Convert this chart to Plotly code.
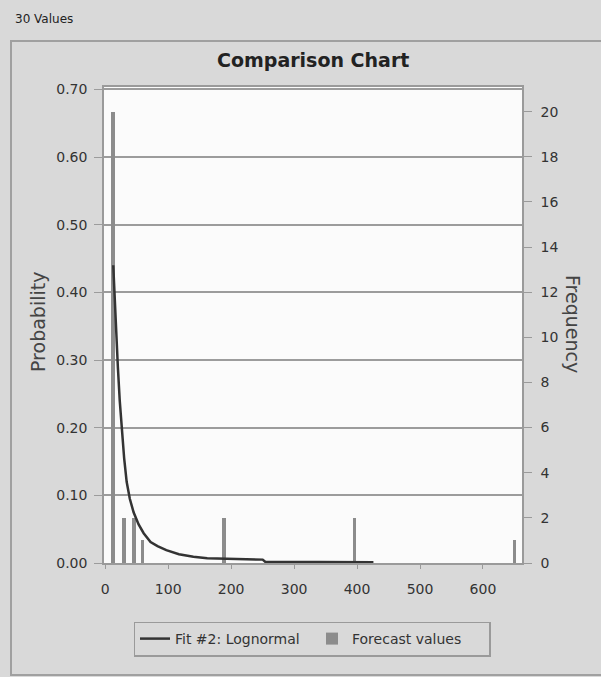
import plotly.graph_objects as go

# ---- data ----
bin_x = [12.7, 30, 46, 59, 188, 396, 650]          # forecast value positions
freq = [20, 2, 2, 1, 2, 2, 1]                       # frequency (30 values)

curve_x = [12.7, 14, 16, 18, 20, 23, 26, 30, 34, 39, 45, 53, 61, 72, 83, 97,
           117, 140, 162, 200, 250, 254, 300, 350, 400, 426]
curve_p = [0.44, 0.41, 0.36, 0.32, 0.29, 0.24, 0.20, 0.155, 0.12, 0.095, 0.075,
           0.057, 0.044, 0.031, 0.025, 0.019, 0.013, 0.0093, 0.007, 0.006,
           0.005, 0.0018, 0.0015, 0.0013, 0.0012, 0.001]

x_ticks = [0, 100, 200, 300, 400, 500, 600]

W, H = 601, 677
FONT = "DejaVu Sans"
GRID = "#9c9c9c"
LINE = "#9a9a9a"
TXT = "#333333"


def px(x):
    return x / W


def py(y):
    return 1 - y / H


fig = go.Figure()
fig.add_trace(go.Bar(
    x=bin_x, y=freq, width=6, yaxis="y",
    marker=dict(color="#8c8c8c", line=dict(width=0)),
    name="Forecast values", legendrank=2,
))
fig.add_trace(go.Scatter(
    x=curve_x, y=curve_p, mode="lines", yaxis="y2",
    line=dict(color="#333333", width=2.5),
    name="Fit #2: Lognormal", legendrank=1,
))

tickfont = dict(family=FONT, size=14, color=TXT)

fig.update_layout(
    width=W, height=H,
    margin=dict(l=0, r=0, t=0, b=0, autoexpand=False),
    paper_bgcolor="#d9d9d9",
    plot_bgcolor="#fbfbfb",
    showlegend=True,
    bargap=0,
    xaxis=dict(
        domain=[px(104), px(522)], range=[-2, 662],
        tickvals=x_ticks, ticks="outside", ticklen=4, tickcolor=LINE,
        showline=True, mirror=True, linecolor=LINE, linewidth=1.5,
        showgrid=False, zeroline=False, tickfont=tickfont,
        ticklabelstandoff=8,
    ),
    yaxis=dict(
        domain=[py(563), py(87)], side="right", range=[0, 21.09],
        dtick=2, ticks="outside", ticklen=8, tickcolor=LINE,
        showline=True, linecolor=LINE, linewidth=1.5,
        showgrid=False, zeroline=False, tickfont=tickfont,
        ticklabelstandoff=6,
    ),
    yaxis2=dict(
        overlaying="y", side="left", range=[0, 0.7035],
        dtick=0.1, tickformat=".2f", ticks="outside", ticklen=8,
        tickcolor=GRID, showline=True, linecolor=LINE, linewidth=1.5,
        showgrid=True, gridcolor=GRID, gridwidth=2, zeroline=False,
        tickfont=tickfont, ticklabelstandoff=4,
    ),
    legend=dict(
        orientation="h", x=px(312), xanchor="center",
        y=py(639), yanchor="middle",
        bgcolor="#d9d9d9", bordercolor=LINE, borderwidth=1.5,
        font=dict(family=FONT, size=14, color=TXT),
        entrywidth=132, entrywidthmode="pixels", itemwidth=30,
    ),
    shapes=[
        dict(type="rect", xref="paper", yref="paper",
             x0=px(11), x1=1.05, y0=py(675), y1=py(41),
             line=dict(color="#a0a0a0", width=2), layer="below"),
    ],
    annotations=[
        dict(text="30 Values", x=px(13), y=py(19), xref="paper", yref="paper",
             xanchor="left", yanchor="middle", showarrow=False,
             font=dict(family=FONT, size=12, color="#222")),
        dict(text="Comparison Chart", x=px(313), y=py(60), xref="paper",
             yref="paper", xanchor="center", yanchor="middle", showarrow=False,
             font=dict(family=FONT, size=19, color="#222", weight="bold")),
        dict(text="Probability", x=px(38), y=py(322), xref="paper",
             yref="paper", xanchor="center", yanchor="middle", showarrow=False,
             textangle=-90, font=dict(family=FONT, size=19, color="#444")),
        dict(text="Frequency", x=px(573), y=py(324), xref="paper",
             yref="paper", xanchor="center", yanchor="middle", showarrow=False,
             textangle=90, font=dict(family=FONT, size=19, color="#444")),
    ],
)

fig.write_html(
    "out.html",
    config={"displayModeBar": False},
    post_script="document.body.style.margin='0';"
                "document.documentElement.style.overflow='hidden';",
)
